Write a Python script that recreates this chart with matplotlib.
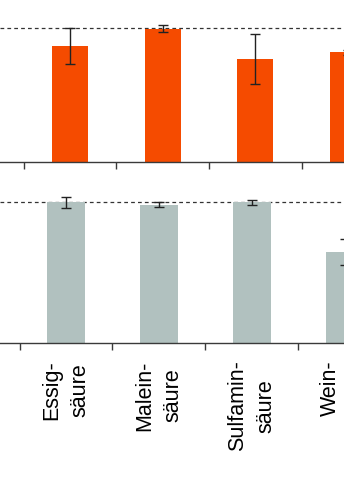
import numpy as np
import matplotlib
matplotlib.use("Agg")
import matplotlib.pyplot as plt

plt.rcParams['font.family'] = ['Liberation Sans', 'DejaVu Sans']

# values (percent of reference, dashed line = 100)
categories = ["Essig-\nsäure", "Malein-\nsäure", "Sulfamin-\nsäure", "Wein-\nsäure"]
top_values = [86.8, 99.6, 77.0, 82.0]
top_errors = [13.5, 2.6, 18.5, 2.0]
bottom_values = [100.0, 98.3, 100.0, 64.5]
bottom_errors = [4.0, 1.7, 1.9, 9.2]

ORANGE = "#F54B00"
GRAY = "#B1C1BF"
AXIS = "#3a3a3a"


def style_panel(ax, xlim, ylim, show_labels=False):
    """Only a bottom spine, boundary ticks, dashed reference line."""
    n = len(categories)
    for side in ("left", "right", "top"):
        ax.spines[side].set_visible(False)
    ax.spines["bottom"].set_color(AXIS)
    ax.spines["bottom"].set_linewidth(1.0)
    ax.set_yticks([])

    # tick marks sit between categories
    ax.set_xticks(np.arange(n + 1) - 0.5)
    ax.set_xticklabels([])
    ax.tick_params(axis="x", direction="out", length=5, width=1.0, color=AXIS)

    if show_labels:
        # drawn as annotations so the last (cut off) label still shows
        for i, cat in enumerate(categories):
            ax.annotate(cat, xy=(i, 0), xycoords=("data", "axes fraction"),
                        xytext=(0, -11.5), textcoords="offset points",
                        rotation=90, fontsize=15.5, ha="center", va="top",
                        multialignment="center", linespacing=1.45,
                        annotation_clip=False)

    ax.axhline(100, color="#333333", lw=0.9, linestyle=(0, (3, 2.5)), zorder=1)
    # limits last, set_xticks would widen them
    ax.set_xlim(*xlim)
    ax.set_ylim(*ylim)


fig = plt.figure(figsize=(3.44, 5.02), dpi=100)

# top panel: orange bars
ax1 = fig.add_axes([0.0, 1 - 163 / 502, 1.0, 163 / 502])
x = np.arange(len(categories))
ax1.bar(x, top_values, width=0.39, color=ORANGE, zorder=2,
        yerr=top_errors, capsize=3.6,
        error_kw=dict(ecolor="#222222", elinewidth=1.0, capthick=1.0))
style_panel(ax1, (-0.755, 2.956), (0, 121.9))

# bottom panel: gray bars
ax2 = fig.add_axes([0.0, 1 - 344.3 / 502, 1.0, 169.3 / 502])
ax2.bar(x, bottom_values, width=0.40, color=GRAY, zorder=2,
        yerr=bottom_errors, capsize=3.6,
        error_kw=dict(ecolor="#222222", elinewidth=1.0, capthick=1.0))
style_panel(ax2, (-0.71, 2.99), (0, 120.1), show_labels=True)

fig.savefig("out.png", dpi=100)
